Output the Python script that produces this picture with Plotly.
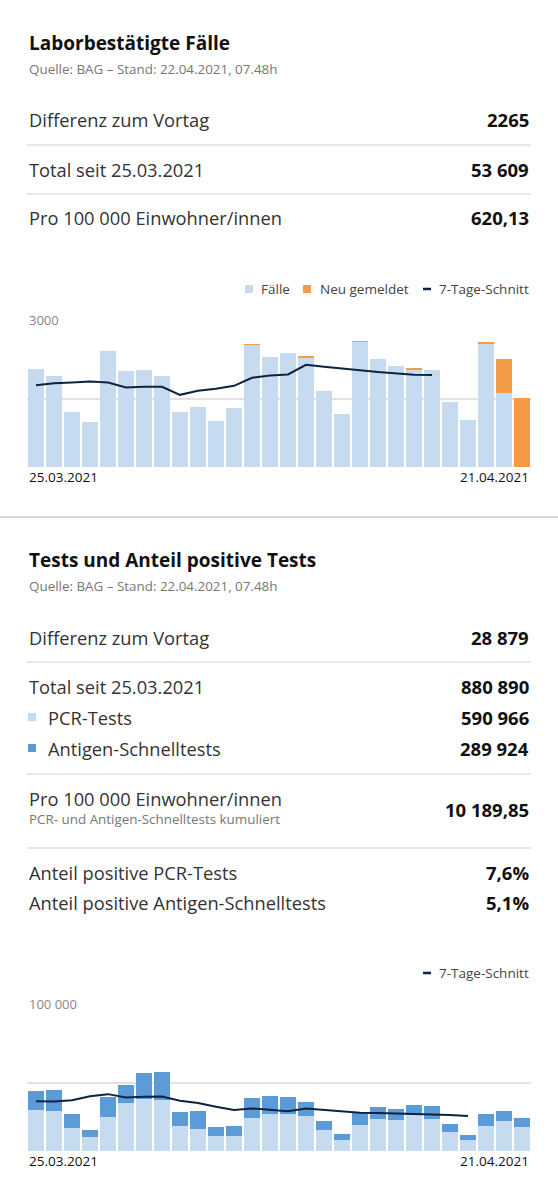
import plotly.graph_objects as go
import pandas as pd

# ---------------- data ----------------
dates = [d.strftime("%d.%m.%Y") for d in pd.date_range("2021-03-25", "2021-04-21")]

faelle = [2143, 1990, 1207, 988, 2538, 2092, 2129, 1983, 1200, 1324, 1017, 1288, 2677, 2399,
          2502, 2407, 1675, 1170, 2743, 2370, 2209, 2143, 2121, 1434, 1039, 2707, 1617, 0]
neu_gemeldet = [0, 0, 0, 0, 0, 0, 0, 0, 0, 0, 0, 0, 15, 0,
                0, 20, 0, 0, 15, 0, 0, 15, 0, 0, 0, 30, 740, 1505]
faelle_7t = [1792, 1836, 1851, 1873, 1851, 1741, 1756, 1756, 1580, 1668, 1712, 1778, 1953, 2004,
             2026, 2238, 2195, 2165, 2121, 2078, 2041, 2019, 2012, None, None, None, None, None]

pcr_tests = [29600, 28900, 17000, 10000, 24800, 35000, 38100, 37400, 18000, 15800, 10700, 11200, 24000, 26900,
             27200, 25200, 15500, 8300, 18900, 23100, 22300, 26200, 23100, 13600, 7800, 18400, 21600, 17200]
antigen_tests = [14100, 15800, 10200, 5500, 14500, 13300, 19200, 20400, 10400, 13300, 6800, 7000, 14600, 12900,
                 11900, 10700, 6300, 4100, 9700, 9200, 8500, 7500, 9400, 6100, 3600, 8800, 7300, 6600]
tests_7t = [36400, 36200, 37100, 40000, 41500, 39100, 39600, 39800, 36700, 35000, 32300, 29900, 31100, 30100,
            29100, 31100, 29900, 28600, 27900, 27700, 27400, 27200, 26900, 26200, 25500, None, None, None]

info1 = [("Differenz zum Vortag", "2265"),
         ("Total seit 25.03.2021", "53 609"),
         ("Pro 100 000 Einwohner/innen", "620,13")]
info2_diff = ("Differenz zum Vortag", "28 879")
info2_total = ("Total seit 25.03.2021", "880 890")
info2_pcr = ("PCR-Tests", "590 966")
info2_ag = ("Antigen-Schnelltests", "289 924")
info2_pro = ("Pro 100 000 Einwohner/innen", "10 189,85", "PCR- und Antigen-Schnelltests kumuliert")
info2_share = [("Anteil positive PCR-Tests", "7,6%"),
               ("Anteil positive Antigen-Schnelltests", "5,1%")]

# ---------------- style ----------------
W, H = 558, 1200
L, R = 27, 531
FONT = "Open Sans"
C_LIGHT = "#c6dbf0"
C_ORANGE = "#f39c45"
C_AG = "#5b9bd8"
C_NAVY = "#0d2340"
C_GRID = "#e3e3e3"
C_SEP = "#d2d2d2"
LBL = 18.3   # row label size
VAL = 18.5   # row value size
LEG = 13.5   # legend size


def px(x):
    return x / W


def py(y):
    return 1 - y / H


fig = go.Figure()

# chart 1
fig.add_trace(go.Bar(x=dates, y=faelle, marker_color=C_LIGHT, marker_line_width=0,
                     xaxis="x", yaxis="y", name="Fälle"))
fig.add_trace(go.Bar(x=dates, y=neu_gemeldet, marker_color=C_ORANGE, marker_line_width=0,
                     xaxis="x", yaxis="y", name="Neu gemeldet"))
fig.add_trace(go.Scatter(x=dates, y=faelle_7t, mode="lines", line=dict(color=C_NAVY, width=2),
                         xaxis="x", yaxis="y", name="7-Tage-Schnitt"))
# chart 2
fig.add_trace(go.Bar(x=dates, y=pcr_tests, marker_color=C_LIGHT, marker_line_width=0,
                     xaxis="x2", yaxis="y2", name="PCR-Tests"))
fig.add_trace(go.Bar(x=dates, y=antigen_tests, marker_color=C_AG, marker_line_width=0,
                     xaxis="x2", yaxis="y2", name="Antigen-Schnelltests"))
fig.add_trace(go.Scatter(x=dates, y=tests_7t, mode="lines", line=dict(color=C_NAVY, width=2),
                         xaxis="x2", yaxis="y2", name="7-Tage-Schnitt"))

ann = []
shapes = []


def text(x, y, t, size=17, color="#222", anchor="left", bold=False):
    ann.append(dict(x=px(x), y=py(y), xref="paper", yref="paper", text=("<b>%s</b>" % t) if bold else t,
                    showarrow=False, xanchor=anchor, yanchor="middle",
                    font=dict(family=FONT, size=size, color=color)))


def hline(y, x0=L, x1=R, color=C_SEP, width=1):
    shapes.append(dict(type="line", xref="paper", yref="paper", x0=px(x0), x1=px(x1),
                       y0=py(y), y1=py(y), line=dict(color=color, width=width)))


def square(x, y, s, color):
    shapes.append(dict(type="rect", xref="paper", yref="paper", x0=px(x), x1=px(x + s),
                       y0=py(y - s / 2), y1=py(y + s / 2), fillcolor=color, line=dict(width=0)))


def dash(x, y, color):
    shapes.append(dict(type="line", xref="paper", yref="paper", x0=px(x), x1=px(x + 8),
                       y0=py(y), y1=py(y), line=dict(color=color, width=2.5)))


# ---- section 1 header ----
text(L, 43, "Laborbestätigte Fälle", size=19, color="#111", bold=True)
text(L, 69, "Quelle: BAG – Stand: 22.04.2021, 07.48h", size=13.4, color="#777")
ys = [120, 169, 218]
for (lab, val), y in zip(info1, ys):
    text(L, y, lab, size=LBL, color="#333")
    text(R, y, val, size=VAL, color="#111", anchor="right", bold=True)
hline(145)
hline(194)

# legend 1
square(245, 289, 8, C_LIGHT)
text(259, 289, "Fälle", size=LEG, color="#444")
square(303, 289, 8, C_ORANGE)
text(318, 289, "Neu gemeldet", size=LEG, color="#444")
dash(423, 289, C_NAVY)
text(R, 289, "7-Tage-Schnitt", size=LEG, color="#444", anchor="right")

text(L, 320, "3000", size=13, color="#888")
text(L, 477, dates[0], size=13.5, color="#111")
text(R, 477, dates[-1], size=13.5, color="#111", anchor="right")

# section separator
hline(517, 0, W, color="#d6d6d6", width=2)

# ---- section 2 header ----
text(L, 560, "Tests und Anteil positive Tests", size=19, color="#111", bold=True)
text(L, 586, "Quelle: BAG – Stand: 22.04.2021, 07.48h", size=13.4, color="#777")
text(L, 637, info2_diff[0], size=LBL, color="#333")
text(R, 637, info2_diff[1], size=VAL, color="#111", anchor="right", bold=True)
hline(662)
text(L, 686, info2_total[0], size=LBL, color="#333")
text(R, 686, info2_total[1], size=VAL, color="#111", anchor="right", bold=True)
square(28, 717, 8, C_LIGHT)
text(46, 717, info2_pcr[0], size=LBL, color="#333")
text(R, 717, info2_pcr[1], size=VAL, color="#111", anchor="right", bold=True)
square(28, 748, 8, C_AG)
text(46, 748, info2_ag[0], size=LBL, color="#333")
text(R, 748, info2_ag[1], size=VAL, color="#111", anchor="right", bold=True)
hline(774)
text(L, 798, info2_pro[0], size=LBL, color="#333")
text(L, 819, info2_pro[2], size=13.4, color="#777")
text(R, 809, info2_pro[1], size=VAL, color="#111", anchor="right", bold=True)
hline(848)
for (lab, val), y in zip(info2_share, [872, 903]):
    text(L, y, lab, size=LBL, color="#333")
    text(R, y, val, size=VAL, color="#111", anchor="right", bold=True)

# legend 2
dash(423, 973, C_NAVY)
text(R, 973, "7-Tage-Schnitt", size=LEG, color="#444", anchor="right")

text(L, 1004, "100 000", size=13, color="#888")
text(L, 1161, dates[0], size=13.5, color="#111")
text(R, 1161, dates[-1], size=13.5, color="#111", anchor="right")

xaxis_common = dict(type="category", showticklabels=False, showgrid=False, zeroline=False,
                    showline=False, ticks="", fixedrange=True,
                    domain=[px(L), px(R)], range=[-0.5, len(dates) - 0.5])

fig.update_layout(
    width=W, height=H,
    margin=dict(l=0, r=0, t=0, b=0),
    paper_bgcolor="white", plot_bgcolor="white",
    showlegend=False, barmode="stack", bargap=0.14,
    font=dict(family=FONT),
    xaxis=dict(**xaxis_common, anchor="y"),
    xaxis2=dict(**xaxis_common, anchor="y2"),
    yaxis=dict(domain=[py(467), py(330)], range=[0, 3000], tickvals=[1500, 3000],
               showticklabels=False, showgrid=True, gridcolor=C_GRID, gridwidth=1.5,
               zeroline=False, ticks="", anchor="x", fixedrange=True),
    yaxis2=dict(domain=[py(1151), py(1014)], range=[0, 100000], tickvals=[50000, 100000],
                showticklabels=False, showgrid=True, gridcolor=C_GRID, gridwidth=1.5,
                zeroline=False, ticks="", anchor="x2", fixedrange=True),
    annotations=ann, shapes=shapes,
)

fig.write_html("out.html", config={"displayModeBar": False},
               post_script="document.body.style.margin='0';document.body.style.overflow='hidden';")
